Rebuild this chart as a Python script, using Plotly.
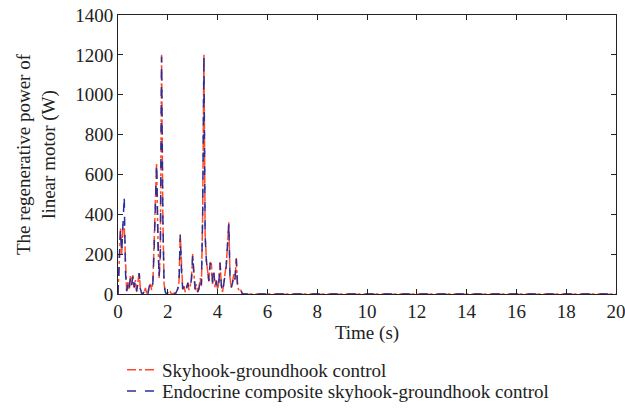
import plotly.graph_objects as go

time_s = [0.00, 0.05, 0.10, 0.15, 0.20, 0.25, 0.30, 0.35, 0.40, 0.45,
          0.50, 0.55, 0.60, 0.65, 0.70, 0.75, 0.80, 0.85, 0.90, 0.95,
          1.00, 1.05, 1.10, 1.15, 1.20, 1.25, 1.30, 1.35, 1.40, 1.45,
          1.50, 1.55, 1.60, 1.65, 1.70, 1.75, 1.80, 1.85, 1.90, 1.95,
          2.00, 2.05, 2.10, 2.15, 2.20, 2.25, 2.30, 2.35, 2.40, 2.45,
          2.50, 2.55, 2.60, 2.65, 2.70, 2.75, 2.80, 2.85, 2.90, 2.95,
          3.00, 3.05, 3.10, 3.15, 3.20, 3.25, 3.30, 3.35, 3.40, 3.45,
          3.50, 3.55, 3.60, 3.65, 3.70, 3.75, 3.80, 3.85, 3.90, 3.95,
          4.00, 4.05, 4.10, 4.15, 4.20, 4.25, 4.30, 4.35, 4.40, 4.45,
          4.50, 4.55, 4.60, 4.65, 4.70, 4.75, 4.80, 4.85, 4.90, 4.95,
          5.00, 20.0]

skyhook_power = [0, 150, 330, 200, 350, 340, 120, 10, 60, 20,
                 90, 40, 100, 30, 70, 10, 60, 110, 20, 5,
                 0, 10, 30, 5, 0, 40, 50, 20, 60, 230,
                 400, 660, 300, 80, 200, 1200, 400, 50, 10, 0,
                 5, 0, 10, 0, 0, 5, 0, 10, 30, 60,
                 300, 120, 20, 40, 10, 30, 60, 20, 40, 80,
                 200, 100, 20, 50, 10, 30, 80, 40, 400, 1200,
                 300, 170, 100, 60, 160, 150, 50, 110, 30, 70,
                 20, 60, 160, 40, 10, 50, 100, 150, 250, 360,
                 80, 30, 60, 100, 70, 180, 40, 20, 30, 10,
                 0, 0]

endocrine_power = [0, 140, 320, 210, 340, 490, 110, 15, 55, 25,
                   85, 45, 95, 35, 65, 15, 55, 105, 25, 5,
                   0, 15, 25, 5, 0, 35, 45, 25, 55, 220,
                   390, 650, 290, 85, 190, 1190, 390, 45, 10, 0,
                   5, 0, 10, 0, 0, 5, 0, 10, 25, 55,
                   295, 115, 25, 35, 10, 25, 55, 25, 35, 75,
                   195, 95, 25, 45, 10, 25, 75, 45, 390, 1195,
                   290, 165, 95, 65, 155, 145, 55, 105, 35, 65,
                   25, 55, 155, 45, 10, 45, 95, 145, 245, 355,
                   75, 35, 55, 95, 75, 175, 45, 25, 25, 10,
                   0, 0]

x_ticks = [0, 2, 4, 6, 8, 10, 12, 14, 16, 18, 20]
y_ticks = [0, 200, 400, 600, 800, 1000, 1200, 1400]

FONT = "Liberation Serif"
INK = "#222222"

fig = go.Figure()
fig.add_trace(go.Scatter(
    x=time_s, y=skyhook_power, mode="lines",
    name="Skyhook-groundhook control", legend="legend",
    line=dict(color="#FF4A2A", width=1.5, dash="dashdot"),
))
fig.add_trace(go.Scatter(
    x=time_s, y=endocrine_power, mode="lines",
    name="Endocrine composite skyhook-groundhook control", legend="legend2",
    line=dict(color="#2B2F9A", width=1.5, dash="dash"),
))

axis_common = dict(
    showgrid=False, zeroline=False, showline=True, linecolor=INK,
    linewidth=1, mirror="ticks", ticks="inside", ticklen=5,
    tickcolor=INK, tickfont=dict(family=FONT, size=19, color=INK),
    ticklabeloverflow="allow",
)

legend_common = dict(xanchor="left", yanchor="middle",
                     font=dict(family=FONT, size=19, color=INK),
                     bgcolor="rgba(0,0,0,0)", itemwidth=30)

fig.update_layout(
    width=625, height=411,
    margin=dict(l=118, r=9, t=15, b=117, autoexpand=False),
    plot_bgcolor="white", paper_bgcolor="white",
    font=dict(family=FONT, size=18, color=INK),
    xaxis=dict(range=[0, 20], tickvals=x_ticks,
               title=dict(text="Time (s)", standoff=0,
                          font=dict(family=FONT, size=19, color=INK)),
               **axis_common),
    yaxis=dict(range=[0, 1400], tickvals=y_ticks,
               title=dict(text="The regenerative power of<br>linear motor (W)", standoff=14,
                          font=dict(family=FONT, size=19, color=INK)),
               **axis_common),
    showlegend=True,
    legend=dict(x=0.008, y=-0.272, **legend_common),
    legend2=dict(x=0.008, y=-0.348, **legend_common),
)

fig.write_html("out.html")
